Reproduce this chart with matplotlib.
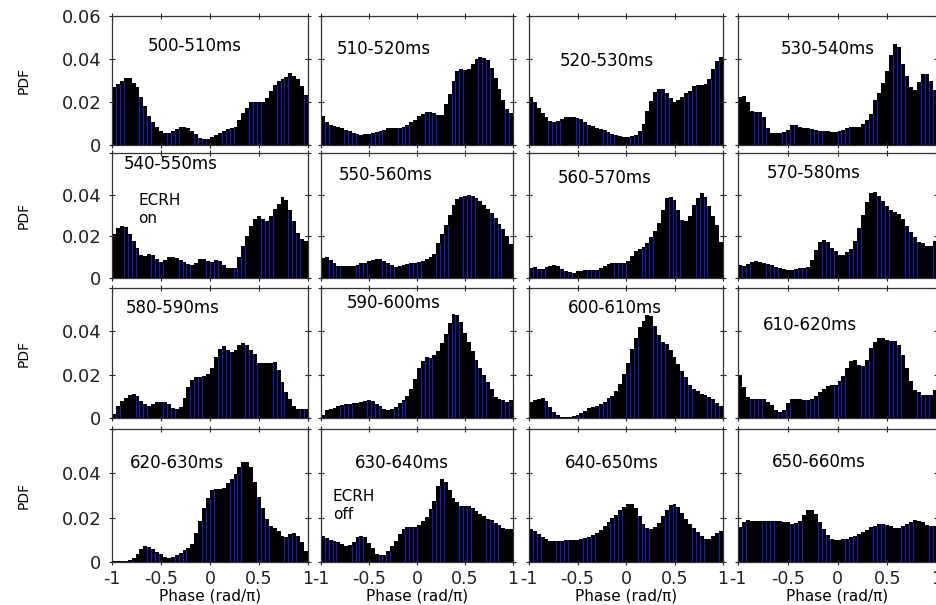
import numpy as np
import matplotlib
matplotlib.use('Agg')
import matplotlib.pyplot as plt

plt.rcParams['font.family'] = 'DejaVu Sans'
plt.rcParams['axes.unicode_minus'] = False

# 50 phase bins of width 0.04 between -1 and 1 (rad/pi)
bin_edges = np.linspace(-1, 1, 51)
bin_centers = 0.5 * (bin_edges[:-1] + bin_edges[1:])

windows = ['500-510ms', '510-520ms', '520-530ms', '530-540ms',
           '540-550ms', '550-560ms', '560-570ms', '570-580ms',
           '580-590ms', '590-600ms', '600-610ms', '610-620ms',
           '620-630ms', '630-640ms', '640-650ms', '650-660ms']

pdf_500 = [0.0269, 0.0286, 0.0300, 0.0310, 0.0310, 0.0290, 0.0270, 0.0225, 0.0180, 0.0133,
           0.0105, 0.0086, 0.0066, 0.0055, 0.0058, 0.0066, 0.0073, 0.0086, 0.0086, 0.0078,
           0.0066, 0.0050, 0.0034, 0.0027, 0.0027, 0.0039, 0.0047, 0.0055, 0.0063, 0.0073,
           0.0078, 0.0086, 0.0114, 0.0148, 0.0172, 0.0200, 0.0200, 0.0200, 0.0200, 0.0217,
           0.0250, 0.0277, 0.0300, 0.0305, 0.0317, 0.0333, 0.0323, 0.0308, 0.0273, 0.0234]
pdf_510 = [0.0136, 0.0105, 0.0094, 0.0089, 0.0083, 0.0077, 0.0070, 0.0066, 0.0058, 0.0050,
           0.0047, 0.0050, 0.0052, 0.0058, 0.0061, 0.0066, 0.0070, 0.0077, 0.0077, 0.0077,
           0.0081, 0.0086, 0.0094, 0.0105, 0.0117, 0.0133, 0.0144, 0.0152, 0.0152, 0.0148,
           0.0141, 0.0141, 0.0191, 0.0239, 0.0297, 0.0344, 0.0355, 0.0348, 0.0355, 0.0375,
           0.0398, 0.0409, 0.0406, 0.0394, 0.0359, 0.0313, 0.0261, 0.0211, 0.0167, 0.0148]
pdf_520 = [0.0225, 0.0198, 0.0170, 0.0151, 0.0130, 0.0111, 0.0108, 0.0111, 0.0122, 0.0130,
           0.0132, 0.0132, 0.0127, 0.0119, 0.0106, 0.0095, 0.0087, 0.0079, 0.0075, 0.0068,
           0.0060, 0.0052, 0.0048, 0.0040, 0.0035, 0.0035, 0.0040, 0.0048, 0.0063, 0.0097,
           0.0160, 0.0203, 0.0246, 0.0262, 0.0259, 0.0243, 0.0219, 0.0202, 0.0208, 0.0222,
           0.0240, 0.0251, 0.0275, 0.0281, 0.0281, 0.0286, 0.0306, 0.0354, 0.0389, 0.0410]
pdf_530 = [0.0224, 0.0230, 0.0200, 0.0157, 0.0155, 0.0155, 0.0128, 0.0080, 0.0056, 0.0056,
           0.0056, 0.0059, 0.0072, 0.0093, 0.0093, 0.0086, 0.0080, 0.0077, 0.0074, 0.0070,
           0.0067, 0.0064, 0.0064, 0.0062, 0.0059, 0.0064, 0.0072, 0.0080, 0.0083, 0.0083,
           0.0083, 0.0096, 0.0115, 0.0144, 0.0208, 0.0243, 0.0288, 0.0344, 0.0419, 0.0472,
           0.0456, 0.0376, 0.0323, 0.0272, 0.0256, 0.0291, 0.0328, 0.0331, 0.0296, 0.0256]
pdf_540 = [0.0213, 0.0238, 0.0248, 0.0243, 0.0210, 0.0177, 0.0144, 0.0111, 0.0107, 0.0116,
           0.0111, 0.0090, 0.0075, 0.0087, 0.0100, 0.0100, 0.0095, 0.0087, 0.0079, 0.0067,
           0.0062, 0.0074, 0.0090, 0.0092, 0.0084, 0.0079, 0.0087, 0.0084, 0.0062, 0.0046,
           0.0046, 0.0049, 0.0103, 0.0156, 0.0202, 0.0248, 0.0284, 0.0300, 0.0284, 0.0272,
           0.0297, 0.0330, 0.0354, 0.0387, 0.0374, 0.0325, 0.0275, 0.0218, 0.0189, 0.0180]
pdf_550 = [0.0095, 0.0100, 0.0087, 0.0070, 0.0057, 0.0057, 0.0057, 0.0057, 0.0060, 0.0064,
           0.0070, 0.0074, 0.0084, 0.0087, 0.0092, 0.0090, 0.0084, 0.0074, 0.0062, 0.0054,
           0.0057, 0.0062, 0.0067, 0.0070, 0.0074, 0.0077, 0.0084, 0.0090, 0.0100, 0.0116,
           0.0166, 0.0210, 0.0254, 0.0303, 0.0349, 0.0379, 0.0390, 0.0395, 0.0398, 0.0395,
           0.0385, 0.0369, 0.0352, 0.0333, 0.0313, 0.0287, 0.0259, 0.0234, 0.0202, 0.0161]
pdf_560 = [0.0048, 0.0052, 0.0044, 0.0045, 0.0052, 0.0060, 0.0061, 0.0056, 0.0044, 0.0035,
           0.0029, 0.0024, 0.0032, 0.0035, 0.0037, 0.0037, 0.0037, 0.0040, 0.0048, 0.0060,
           0.0068, 0.0073, 0.0073, 0.0070, 0.0070, 0.0081, 0.0106, 0.0128, 0.0141, 0.0148,
           0.0169, 0.0195, 0.0227, 0.0266, 0.0328, 0.0386, 0.0388, 0.0375, 0.0328, 0.0278,
           0.0273, 0.0300, 0.0352, 0.0383, 0.0406, 0.0388, 0.0344, 0.0297, 0.0253, 0.0172]
pdf_570 = [0.0063, 0.0058, 0.0067, 0.0077, 0.0080, 0.0078, 0.0073, 0.0067, 0.0063, 0.0055,
           0.0047, 0.0042, 0.0039, 0.0039, 0.0042, 0.0047, 0.0047, 0.0055, 0.0086, 0.0133,
           0.0172, 0.0184, 0.0172, 0.0145, 0.0130, 0.0109, 0.0109, 0.0125, 0.0141, 0.0180,
           0.0239, 0.0302, 0.0367, 0.0406, 0.0414, 0.0395, 0.0370, 0.0348, 0.0328, 0.0317,
           0.0305, 0.0281, 0.0250, 0.0223, 0.0195, 0.0175, 0.0167, 0.0156, 0.0156, 0.0180]
pdf_580 = [0.0020, 0.0054, 0.0078, 0.0094, 0.0105, 0.0109, 0.0100, 0.0078, 0.0063, 0.0054,
           0.0063, 0.0074, 0.0074, 0.0074, 0.0063, 0.0046, 0.0043, 0.0051, 0.0094, 0.0143,
           0.0177, 0.0189, 0.0189, 0.0192, 0.0202, 0.0232, 0.0282, 0.0320, 0.0331, 0.0312,
           0.0305, 0.0312, 0.0335, 0.0346, 0.0335, 0.0312, 0.0294, 0.0254, 0.0254, 0.0254,
           0.0254, 0.0258, 0.0223, 0.0166, 0.0120, 0.0089, 0.0054, 0.0043, 0.0043, 0.0043]
pdf_590 = [0.0012, 0.0035, 0.0043, 0.0048, 0.0054, 0.0058, 0.0063, 0.0066, 0.0069, 0.0069,
           0.0074, 0.0078, 0.0082, 0.0078, 0.0066, 0.0054, 0.0043, 0.0038, 0.0043, 0.0051,
           0.0069, 0.0085, 0.0100, 0.0135, 0.0182, 0.0232, 0.0263, 0.0282, 0.0278, 0.0289,
           0.0309, 0.0346, 0.0389, 0.0438, 0.0478, 0.0474, 0.0443, 0.0392, 0.0351, 0.0309,
           0.0266, 0.0232, 0.0197, 0.0166, 0.0135, 0.0097, 0.0089, 0.0085, 0.0074, 0.0085]
pdf_600 = [0.0073, 0.0081, 0.0086, 0.0091, 0.0078, 0.0050, 0.0028, 0.0013, 0.0003, 0.0003,
           0.0003, 0.0008, 0.0016, 0.0023, 0.0034, 0.0044, 0.0050, 0.0055, 0.0063, 0.0075,
           0.0091, 0.0102, 0.0125, 0.0156, 0.0203, 0.0253, 0.0320, 0.0367, 0.0419, 0.0450,
           0.0475, 0.0470, 0.0425, 0.0383, 0.0352, 0.0341, 0.0316, 0.0281, 0.0250, 0.0219,
           0.0188, 0.0153, 0.0136, 0.0125, 0.0113, 0.0106, 0.0097, 0.0086, 0.0070, 0.0055]
pdf_610 = [0.0197, 0.0141, 0.0098, 0.0087, 0.0087, 0.0090, 0.0087, 0.0075, 0.0059, 0.0035,
           0.0030, 0.0035, 0.0071, 0.0086, 0.0090, 0.0087, 0.0083, 0.0083, 0.0087, 0.0103,
           0.0119, 0.0135, 0.0149, 0.0151, 0.0151, 0.0170, 0.0194, 0.0233, 0.0262, 0.0268,
           0.0246, 0.0241, 0.0268, 0.0321, 0.0352, 0.0371, 0.0368, 0.0360, 0.0357, 0.0357,
           0.0337, 0.0289, 0.0233, 0.0173, 0.0130, 0.0119, 0.0106, 0.0106, 0.0106, 0.0130]
pdf_620 = [0.0005, 0.0005, 0.0005, 0.0005, 0.0008, 0.0020, 0.0038, 0.0058, 0.0070, 0.0068,
           0.0058, 0.0045, 0.0035, 0.0023, 0.0017, 0.0023, 0.0032, 0.0042, 0.0053, 0.0062,
           0.0080, 0.0129, 0.0186, 0.0244, 0.0289, 0.0323, 0.0330, 0.0330, 0.0333, 0.0356,
           0.0376, 0.0398, 0.0429, 0.0452, 0.0452, 0.0429, 0.0361, 0.0292, 0.0244, 0.0194,
           0.0164, 0.0153, 0.0141, 0.0118, 0.0111, 0.0126, 0.0133, 0.0118, 0.0088, 0.0050]
pdf_630 = [0.0119, 0.0107, 0.0101, 0.0096, 0.0089, 0.0079, 0.0073, 0.0076, 0.0092, 0.0111,
           0.0119, 0.0111, 0.0085, 0.0061, 0.0035, 0.0031, 0.0031, 0.0050, 0.0070, 0.0096,
           0.0127, 0.0150, 0.0157, 0.0157, 0.0157, 0.0168, 0.0183, 0.0203, 0.0238, 0.0275,
           0.0345, 0.0376, 0.0363, 0.0325, 0.0287, 0.0269, 0.0253, 0.0253, 0.0253, 0.0244,
           0.0229, 0.0218, 0.0208, 0.0195, 0.0188, 0.0177, 0.0165, 0.0153, 0.0150, 0.0150]
pdf_640 = [0.0151, 0.0138, 0.0126, 0.0115, 0.0105, 0.0095, 0.0095, 0.0095, 0.0095, 0.0098,
           0.0098, 0.0098, 0.0100, 0.0103, 0.0108, 0.0115, 0.0123, 0.0131, 0.0146, 0.0162,
           0.0182, 0.0200, 0.0212, 0.0236, 0.0247, 0.0262, 0.0262, 0.0242, 0.0206, 0.0171,
           0.0152, 0.0148, 0.0156, 0.0176, 0.0209, 0.0236, 0.0258, 0.0262, 0.0247, 0.0221,
           0.0194, 0.0171, 0.0152, 0.0136, 0.0118, 0.0106, 0.0106, 0.0118, 0.0133, 0.0141]
pdf_650 = [0.0156, 0.0182, 0.0189, 0.0186, 0.0183, 0.0183, 0.0185, 0.0186, 0.0186, 0.0185,
           0.0183, 0.0182, 0.0179, 0.0171, 0.0176, 0.0186, 0.0212, 0.0236, 0.0236, 0.0217,
           0.0182, 0.0148, 0.0121, 0.0103, 0.0100, 0.0100, 0.0103, 0.0106, 0.0111, 0.0118,
           0.0126, 0.0136, 0.0145, 0.0156, 0.0164, 0.0171, 0.0171, 0.0167, 0.0161, 0.0152,
           0.0152, 0.0161, 0.0171, 0.0179, 0.0189, 0.0186, 0.0179, 0.0167, 0.0161, 0.0161]

pdfs = [pdf_500, pdf_510, pdf_520, pdf_530,
        pdf_540, pdf_550, pdf_560, pdf_570,
        pdf_580, pdf_590, pdf_600, pdf_610,
        pdf_620, pdf_630, pdf_640, pdf_650]

# where each window label sits (left edge, vertical centre), data coords
label_xy = [(-0.64, 0.046), (-0.84, 0.0447), (-0.68, 0.039), (-0.57, 0.0447),
            (-0.88, 0.0545), (-0.82, 0.0495), (-0.70, 0.048), (-0.71, 0.0505),
            (-0.86, 0.051), (-0.73, 0.0533), (-0.60, 0.0506), (-0.75, 0.043),
            (-0.82, 0.0445), (-0.65, 0.0445), (-0.63, 0.0445), (-0.66, 0.045)]

# panel frames in pixels of a 936x605 canvas
W, H = 936, 605
col_left = [112, 321, 529, 738]
col_width = [196, 192, 194, 199]
row_top = [16, 153, 288, 429]
row_bottom = [145, 278, 418, 562]

fig = plt.figure(figsize=(W / 100, H / 100), dpi=100)

for k in range(16):
    r, c = divmod(k, 4)
    ax = fig.add_axes([col_left[c] / W, 1 - row_bottom[r] / H,
                       col_width[c] / W, (row_bottom[r] - row_top[r]) / H])
    vals = np.array(pdfs[k])
    ax.bar(bin_centers, vals, width=0.04, color='black', edgecolor='none')
    # thin blue lines between some of the bins
    for i in range(1, 50):
        if (i + k) % 7 < 4:
            ax.vlines(bin_edges[i], 0, min(vals[i - 1], vals[i]),
                      color='#1c1cb0', linewidth=0.9)
    ax.set_xlim(-1, 1)
    ax.set_ylim(0, 0.06)
    ax.set_xticks([-1, -0.5, 0, 0.5, 1])
    ax.set_yticks([0, 0.02, 0.04, 0.06])
    ax.tick_params(direction='inout', length=5, width=0.8, top=True, right=True,
                   labelsize=13, pad=5, colors='#222222')
    ax.tick_params(axis='x', pad=3, labelsize=12.5)
    for sp in ax.spines.values():
        sp.set_color('#333333')
        sp.set_linewidth(0.9)

    if c == 0:
        if r == 0:
            ax.set_yticklabels(['0', '0.02', '0.04', '0.06'])
        else:
            ax.set_yticklabels(['0', '0.02', '0.04', ''])
        fig.text(24 / W, 1 - (row_top[r] + row_bottom[r]) / 2 / H, 'PDF',
                 rotation=90, ha='center', va='center', fontsize=10)
    else:
        ax.set_yticklabels([])

    if r == 3:
        ax.set_xticklabels(['-1', '-0.5', '0', '0.5', '1'])
        fig.text((col_left[c] + col_width[c] / 2) / W, 1 - 596 / H, 'Phase (rad/π)',
                 ha='center', va='center', fontsize=11)
    else:
        ax.set_xticklabels([])

    lx, ly = label_xy[k]
    ax.text(lx, ly, windows[k], ha='left', va='center', fontsize=12)

    if k == 4:
        ax.text(-0.73, 0.0372, 'ECRH', ha='left', va='center', fontsize=11)
        ax.text(-0.73, 0.0285, 'on', ha='left', va='center', fontsize=11)
    if k == 13:
        ax.text(-0.875, 0.0295, 'ECRH', ha='left', va='center', fontsize=11)
        ax.text(-0.875, 0.0215, 'off', ha='left', va='center', fontsize=11)

fig.savefig('out.png', dpi=100)
